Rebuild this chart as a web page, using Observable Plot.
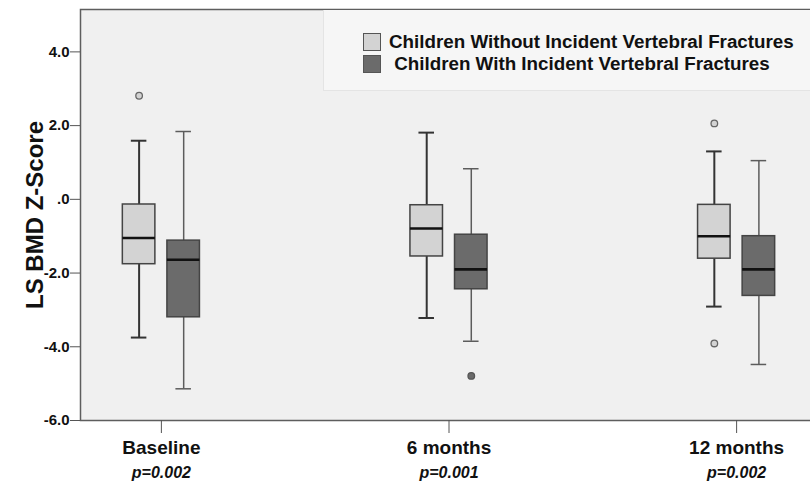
<!DOCTYPE html>
<html>
<head>
<meta charset="utf-8">
<script src="https://cdn.jsdelivr.net/npm/d3@7"></script>
<script src="https://cdn.jsdelivr.net/npm/@observablehq/plot@0.6"></script>
<style>
  html, body { margin: 0; padding: 0; background: #fff; overflow: hidden; }
  #wrap { position: relative; width: 810px; height: 494px; overflow: hidden; font-family: "Liberation Sans", Arial, sans-serif; }
  #wrap svg { max-width: none !important; width: 830px; height: 494px; display: block; }
  #legend { position: absolute; left: 323px; top: 10px; width: 500px; height: 80px; background: #f6f6f6; border-left: 1px solid #e4e4e4; border-bottom: 1px solid #e4e4e4; }
  .item { position: absolute; display: flex; align-items: center; font-size: 18.8px; font-weight: bold; color: #111; white-space: pre; }
  .sw { width: 16px; height: 16px; border: 1px solid #555; margin-right: 8px; }
  svg g[aria-label="y-axis label"] text { font-size: 24px; font-weight: bold; }
</style>
</head>
<body>
<div id="wrap"></div>
<script>
const times = ["Baseline", "6 months", "12 months"];
const groupKeys = ["Without", "With"];
const groupLabels = ["Children Without Incident Vertebral Fractures", " Children With Incident Vertebral Fractures"];
const pValues = ["p=0.002", "p=0.001", "p=0.002"];
const yTicks = [-6, -4, -2, 0, 2, 4];

// Box statistics per time point (lower whisker, Q1, median, Q3, upper whisker)
const withoutLow  = [-3.75, -3.22, -2.91];
const withoutQ1   = [-1.76, -1.55, -1.61];
const withoutMed  = [-1.05, -0.79, -1.00];
const withoutQ3   = [-0.14, -0.16, -0.15];
const withoutHigh = [1.59, 1.81, 1.30];

const withLow  = [-5.14, -3.85, -4.48];
const withQ1   = [-3.20, -2.44, -2.62];
const withMed  = [-1.64, -1.90, -1.90];
const withQ3   = [-1.12, -0.96, -1.00];
const withHigh = [1.84, 0.83, 1.05];

const outlierTimes  = ["Baseline", "12 months", "12 months", "6 months"];
const outlierGroups = ["Without", "Without", "Without", "With"];
const outlierValues = [2.81, 2.06, -3.91, -4.79];

const colors = {Without: "#d3d3d3", With: "#6b6b6b"};

const rowsWithout = times.map((t, i) => ({time: t, group: "Without", low: withoutLow[i], q1: withoutQ1[i], med: withoutMed[i], q3: withoutQ3[i], high: withoutHigh[i]}));
const rowsWith = times.map((t, i) => ({time: t, group: "With", low: withLow[i], q1: withQ1[i], med: withMed[i], q3: withQ3[i], high: withHigh[i]}));
const rows = [...rowsWithout, ...rowsWith];
const outliers = outlierValues.map((v, i) => ({time: outlierTimes[i], group: outlierGroups[i], value: v}));
const pRows = times.map((t, i) => ({time: t, p: pValues[i]}));

function whiskers(data, stroke, sw) {
  return [
    Plot.ruleX(data, {fx: "time", x: "group", y1: "low", y2: "q1", stroke, strokeWidth: sw}),
    Plot.ruleX(data, {fx: "time", x: "group", y1: "q3", y2: "high", stroke, strokeWidth: sw}),
    Plot.tickY(data, {fx: "time", x: "group", y: "low", stroke, strokeWidth: sw, insetLeft: 8.5, insetRight: 8.5}),
    Plot.tickY(data, {fx: "time", x: "group", y: "high", stroke, strokeWidth: sw, insetLeft: 8.5, insetRight: 8.5})
  ];
}

const chart = Plot.plot({
  width: 830,
  height: 494,
  marginLeft: 80,
  marginRight: 13,
  marginTop: 9,
  marginBottom: 74,
  style: {fontFamily: "'Liberation Sans', Arial, sans-serif", background: "transparent", color: "#111", maxWidth: "none"},
  fx: {domain: times, paddingInner: 0.4375, paddingOuter: 0, round: false, label: null, axis: null},
  x: {domain: groupKeys, paddingInner: 0.27, paddingOuter: 0.95, round: false, axis: null},
  y: {domain: [-6, 5.15], axis: null},
  marks: [
    Plot.frame({facet: "super", fill: "#f0f0f0", stroke: "#5e5e5e", strokeWidth: 1.5}),
    ...whiskers(rowsWithout, "#333", 2),
    ...whiskers(rowsWith, "#5c5c5c", 1.5),
    Plot.barY(rows, {fx: "time", x: "group", y1: "q1", y2: "q3", fill: d => colors[d.group], stroke: "#444", strokeWidth: 1.5}),
    Plot.tickY(rows, {fx: "time", x: "group", y: "med", stroke: "#111", strokeWidth: 2.6}),
    Plot.dot(outliers, {fx: "time", x: "group", y: "value", r: 3.3, fill: d => colors[d.group], stroke: d => d.group === "With" ? "#555" : "#666", strokeWidth: 1.3}),
    Plot.axisY({ticks: yTicks, tickFormat: d => d === 0 ? ".0" : d.toFixed(1), tickSize: 10, tickPadding: 1, fontSize: 15, fontWeight: "bold", stroke: "#555", label: "LS BMD Z-Score", labelAnchor: "center", labelOffset: 55, labelArrow: "none"}),
    Plot.axisFx({anchor: "bottom", tickSize: 13, tickPadding: 7, fontSize: 19, fontWeight: "bold", stroke: "#555", label: null}),
    Plot.text(pRows, {fx: "time", text: "p", frameAnchor: "bottom", lineAnchor: "top", dy: 46, fontSize: 16, fontStyle: "italic", fontWeight: "bold", fill: "#111"})
  ]
});

const wrap = document.getElementById("wrap");
wrap.appendChild(chart);

const legend = document.createElement("div");
legend.id = "legend";
wrap.appendChild(legend);
groupKeys.forEach((g, i) => {
  const item = document.createElement("div");
  item.className = "item";
  item.style.left = "39px";
  item.style.top = (21 + i * 21.5) + "px";
  const sw = document.createElement("div");
  sw.className = "sw";
  sw.style.background = colors[g];
  const label = document.createElement("span");
  label.textContent = groupLabels[i];
  item.appendChild(sw);
  item.appendChild(label);
  legend.appendChild(item);
});
</script>
</body>
</html>
